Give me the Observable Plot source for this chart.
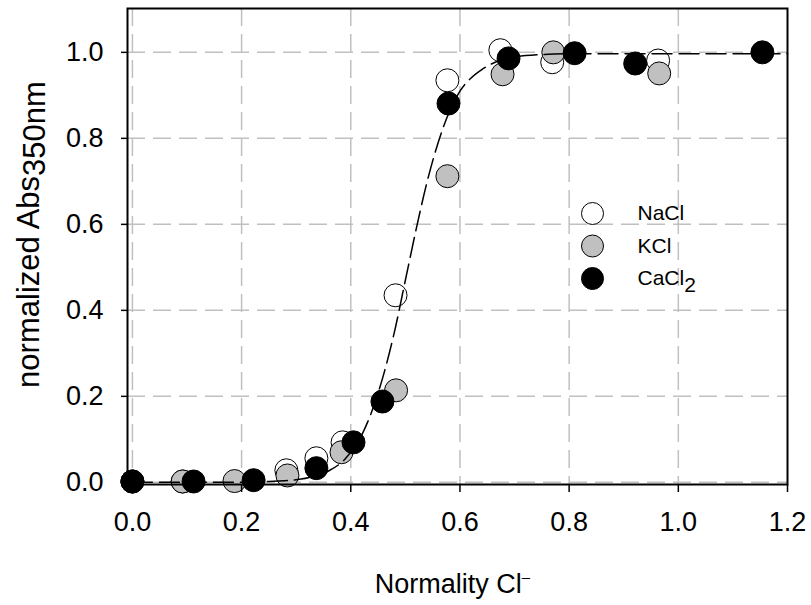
<!DOCTYPE html>
<html>
<head>
<meta charset="utf-8">
<script src="https://cdn.jsdelivr.net/npm/d3@7"></script>
<script src="https://cdn.jsdelivr.net/npm/@observablehq/plot@0.6"></script>
<style>
  html, body { margin: 0; padding: 0; background: #fff; }
  svg { display: block; font-family: "Liberation Sans", Arial, sans-serif; }
</style>
</head>
<body>
<div id="chart"></div>
<script>
// ---- data ----
const xTicks = [0, 0.2, 0.4, 0.6, 0.8, 1.0, 1.2];
const yTicks = [0, 0.2, 0.4, 0.6, 0.8, 1.0];
const xGrid = [0, 0.2, 0.4, 0.6, 0.8, 1.0];
const yGrid = [0, 0.2, 0.4, 0.6, 0.8, 1.0];

const naclX = [0, 0.092, 0.282, 0.337, 0.385, 0.482, 0.577, 0.674, 0.769, 0.963];
const naclY = [0.002, 0.002, 0.028, 0.056, 0.093, 0.435, 0.935, 1.005, 0.977, 0.981];

const kclX = [0, 0.092, 0.187, 0.284, 0.383, 0.483, 0.577, 0.678, 0.771, 0.965];
const kclY = [0.002, 0.002, 0.003, 0.016, 0.07, 0.214, 0.712, 0.949, 1.0, 0.951];

const cacl2X = [0, 0.112, 0.222, 0.337, 0.405, 0.458, 0.579, 0.689, 0.81, 0.921, 1.154];
const cacl2Y = [0.002, 0.002, 0.005, 0.033, 0.093, 0.188, 0.881, 0.986, 0.998, 0.974, 1.0];

// dashed fit curve
const fitX = [0, 0.1, 0.2, 0.25, 0.3, 0.33, 0.36, 0.39, 0.42, 0.44, 0.46, 0.48, 0.5, 0.52, 0.54, 0.56, 0.58, 0.6, 0.62, 0.64, 0.67, 0.7, 0.75, 0.8, 0.9, 1.0, 1.1, 1.2];
const fitY = [0, 0, 0.0005, 0.002, 0.006, 0.013, 0.027, 0.055, 0.11, 0.17, 0.25, 0.35, 0.47, 0.59, 0.70, 0.79, 0.86, 0.91, 0.94, 0.96, 0.98, 0.989, 0.995, 0.997, 0.997, 0.997, 0.997, 0.997];

const seriesNames = ["NaCl", "KCl", "CaCl2"];
const seriesFill = ["#ffffff", "#c0c0c0", "#000000"];

// ---- build tables ----
const toRows = (xs, ys) => xs.map((x, i) => ({x, y: ys[i]}));
const nacl = toRows(naclX, naclY);
const kcl = toRows(kclX, kclY);
const cacl2 = toRows(cacl2X, cacl2Y);
const fit = toRows(fitX, fitY);
const seriesData = [nacl, kcl, cacl2];

const R = 11.5;
const legendMarks = [];
seriesNames.forEach((name, i) => {
  legendMarks.push(Plot.dot([name], {
    frameAnchor: "top-left", dx: 465, dy: 205 + i * 32.5, r: 11,
    fill: seriesFill[i], stroke: "#000", strokeWidth: 1
  }));
  legendMarks.push(Plot.text([name], {
    frameAnchor: "top-left", dx: 510, dy: 205 + i * 32.5,
    text: d => d, textAnchor: "start", lineAnchor: "middle",
    fontSize: 21, fill: "#000"
  }));
});

const chart = Plot.plot({
  width: 811,
  height: 605,
  marginLeft: 127,
  marginRight: 24,
  marginTop: 8,
  marginBottom: 121,
  style: {fontFamily: '"Liberation Sans", Arial, sans-serif', background: "#fff", color: "#000"},
  x: {domain: [-0.009, 1.2], axis: null},
  y: {domain: [-0.005, 1.102], axis: null},
  marks: [
    Plot.gridX(xGrid, {stroke: "#c0c0c0", strokeOpacity: 1, strokeWidth: 1.5, strokeDasharray: "18,8"}),
    Plot.gridY(yGrid, {stroke: "#c0c0c0", strokeOpacity: 1, strokeWidth: 1.5, strokeDasharray: "18,8"}),
    ...seriesData.map((d, i) => Plot.dot(d, {x: "x", y: "y", r: R, fill: seriesFill[i], stroke: "#000", strokeWidth: 1})),
    Plot.line(fit, {x: "x", y: "y", stroke: "#000", strokeWidth: 1.5, strokeDasharray: "20,7", curve: "monotone-x"}),
    Plot.frame({stroke: "#000", strokeWidth: 2}),
    Plot.axisX(xTicks, {tickFormat: d3.format(".1f"), tickSize: 8, tickPadding: 19, fontSize: 27, label: null, strokeWidth: 1.5}),
    Plot.axisY(yTicks, {tickFormat: d3.format(".1f"), tickSize: 6, tickPadding: 18, fontSize: 27, label: null, strokeWidth: 1.5}),
    Plot.text(["Normality Cl"], {frameAnchor: "bottom", textAnchor: "middle", lineAnchor: "middle", dy: 100, dx: -5, fontSize: 27, fill: "#000"}),
    Plot.text(["normalized Abs350nm"], {frameAnchor: "left", textAnchor: "middle", rotate: -90, lineAnchor: "middle", dx: -98, dy: -12, fontSize: 31, fill: "#000"}),
    ...legendMarks
  ]
});

document.getElementById("chart").appendChild(chart);

// ---- rich text: subscripts / superscripts ----
const svg = d3.select(chart);
svg.selectAll("text").each(function() {
  const t = d3.select(this);
  const s = this.textContent;
  if (s === "CaCl2") {
    t.text("CaCl");
    t.append("tspan").attr("dy", 7).text("2");
  } else if (s === "normalized Abs350nm") {
    t.text("normalized Abs");
    t.append("tspan").attr("dy", 6).text("350nm");
  } else if (s === "Normality Cl") {
    t.text("Normality Cl");
    t.append("tspan").attr("dy", -11).attr("font-size", 15).text("\u2013");
  }
});
</script>
</body>
</html>
